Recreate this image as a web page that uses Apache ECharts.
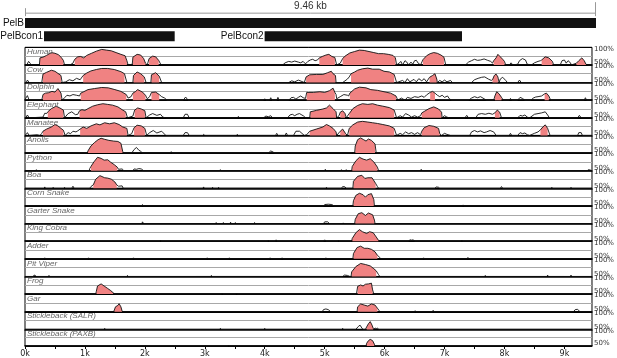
<!DOCTYPE html>
<html>
<head>
<meta charset="utf-8">
<script src="https://cdn.jsdelivr.net/npm/echarts@6/dist/echarts.min.js"></script>
<style>
html, body { margin: 0; background: #fff; }
#vista { width: 617px; height: 358px; }
</style>
</head>
<body>
<div id="vista"></div>
<script>
// sequence length in kb
var lengthKb = 9.46;

var trackNames = ['Human', 'Cow', 'Dolphin', 'Elephant', 'Manatee', 'Anolis', 'Python', 'Boa',
  'Corn Snake', 'Garter Snake', 'King Cobra', 'Adder', 'Pit Viper', 'Frog', 'Gar',
  'Stickleback (SALR)', 'Stickleback (PAXB)'];

// conservation curves: [position kb, % identity], 50 = at or below the floor
var human = [[0,50],[0.03,50],[0.06,60],[0.09,54],[0.11,50],[0.24,50],[0.25,70],[0.3,72],[0.36,77],[0.44,85],[0.5,83],[0.56,79],[0.61,70],[0.64,63],[0.66,50],[0.75,50],[0.8,55],[0.83,66],[0.88,73],[0.93,74],[0.98,70],[1.03,77],[1.11,83],[1.19,89],[1.28,94],[1.36,92],[1.44,90],[1.52,85],[1.6,80],[1.67,76],[1.7,62],[1.72,50],[1.79,52],[1.8,72],[1.87,80],[1.93,78],[1.98,68],[2.01,55],[2.04,50],[2.07,68],[2.13,75],[2.18,73],[2.23,63],[2.27,50],
  [4.3,50],[4.34,56],[4.4,60],[4.45,58],[4.5,61],[4.56,58],[4.6,56],[4.64,60],[4.68,53],[4.72,60],[4.76,64],[4.8,66],[4.84,62],[4.88,64],[4.91,70],[4.96,74],[5.02,78],[5.07,80],[5.12,74],[5.17,71],[5.2,50],[5.26,55],[5.3,68],[5.34,75],[5.42,84],[5.5,88],[5.58,92],[5.66,91],[5.74,88],[5.82,85],[5.9,82],[5.98,82],[6.06,80],[6.14,77],[6.18,70],[6.2,50],[6.25,56],[6.27,60],[6.3,50],[6.34,62],[6.37,58],[6.4,50],[6.44,58],[6.47,52],[6.5,62],[6.53,63],[6.56,55],[6.6,50],
  [6.64,65],[6.7,76],[6.76,82],[6.82,85],[6.88,83],[6.94,78],[6.99,72],[7.02,50],[7.35,50],[7.4,58],[7.45,62],[7.5,66],[7.55,63],[7.6,64],[7.66,67],[7.72,63],[7.77,60],[7.8,55],[7.82,62],[7.86,70],[7.89,80],[7.93,73],[7.97,66],[8.0,60],[8.02,50],[8.08,50],[8.11,56],[8.14,50],[8.22,52],[8.25,62],[8.3,68],[8.35,64],[8.38,52],[8.45,50],[8.5,56],[8.56,60],[8.6,62],[8.62,64],[8.68,73],[8.74,70],[8.8,60],[8.82,50],[8.93,50],[8.96,62],[9.0,64],[9.03,55],[9.06,62],[9.09,58],[9.12,50],[9.2,55],[9.24,62],[9.29,70],[9.33,62],[9.36,52],[9.38,50],[9.46,50]];
var cow = [[0,50],[0.02,50],[0.04,57],[0.07,50],[0.28,50],[0.3,74],[0.36,79],[0.44,85],[0.5,82],[0.55,76],[0.6,70],[0.62,50],[0.68,52],[0.74,58],[0.8,55],[0.86,62],[0.92,58],[0.97,70],[1.03,77],[1.1,83],[1.19,87],[1.28,90],[1.38,90],[1.49,87],[1.6,81],[1.66,75],[1.7,50],[1.8,50],[1.81,70],[1.87,80],[1.93,75],[1.99,66],[2.02,50],[2.1,50],[2.11,72],[2.18,78],[2.24,68],[2.28,50],
  [4.4,50],[4.45,55],[4.5,52],[4.56,57],[4.62,53],[4.66,50],[4.69,66],[4.75,72],[4.86,73],[4.97,73],[5.05,78],[5.11,82],[5.14,75],[5.18,70],[5.19,50],[5.3,50],[5.38,60],[5.41,66],[5.44,75],[5.5,80],[5.55,85],[5.63,89],[5.72,91],[5.8,88],[5.91,88],[5.99,82],[6.08,80],[6.16,73],[6.2,50],[6.3,56],[6.34,50],[6.38,61],[6.42,52],[6.46,56],[6.49,59],[6.53,52],[6.57,61],[6.62,55],[6.66,61],[6.7,52],
  [6.75,65],[6.8,70],[6.84,75],[6.87,60],[6.88,50],[6.92,56],[6.96,52],[7.0,57],[7.04,52],[7.1,56],[7.13,50],[7.45,50],[7.5,58],[7.56,62],[7.62,65],[7.67,66],[7.73,60],[7.78,56],[7.8,58],[7.83,70],[7.86,74],[7.89,66],[7.91,50],[7.93,60],[7.97,65],[8.02,56],[8.05,50],[8.22,50],[8.25,57],[8.28,50],[9.46,50]];
var dolphin = [[0,50],[0.01,55],[0.04,63],[0.07,50],[0.28,50],[0.3,66],[0.34,70],[0.39,71],[0.45,75],[0.5,73],[0.55,83],[0.6,70],[0.62,50],[0.66,57],[0.7,64],[0.75,62],[0.8,66],[0.86,64],[0.91,62],[0.93,70],[0.98,74],[1.05,80],[1.16,83],[1.28,86],[1.39,85],[1.5,80],[1.6,75],[1.69,66],[1.72,56],[1.77,60],[1.8,70],[1.84,74],[1.88,80],[1.96,73],[2.01,64],[2.04,54],[2.08,60],[2.11,72],[2.18,73],[2.24,66],[2.28,60],[2.33,56],[2.37,50],
  [2.64,50],[2.68,59],[2.72,50],[3.98,50],[4.0,54],[4.02,50],[4.08,50],[4.1,57],[4.12,50],[4.2,50],[4.22,58],[4.24,50],[4.4,50],[4.44,57],[4.48,58],[4.52,53],[4.56,58],[4.6,62],[4.64,57],[4.68,55],[4.7,72],[4.81,72],[4.92,74],[5.0,72],[5.08,77],[5.14,84],[5.17,72],[5.19,66],[5.2,54],[5.26,60],[5.32,66],[5.38,64],[5.4,62],[5.42,70],[5.5,82],[5.58,87],[5.69,85],[5.77,80],[5.88,78],[5.99,74],[6.1,70],[6.19,62],[6.22,50],
  [6.28,56],[6.34,50],[6.38,58],[6.44,55],[6.5,60],[6.56,58],[6.62,62],[6.66,58],[6.7,65],[6.76,72],[6.8,75],[6.84,70],[6.88,64],[6.92,60],[6.96,64],[7.0,58],[7.05,62],[7.08,54],[7.12,50],[7.4,50],[7.45,56],[7.5,60],[7.55,57],[7.6,60],[7.66,54],[7.7,50],[7.82,50],[7.84,62],[7.87,74],[7.91,68],[7.95,58],[7.98,50],[8.08,50],[8.1,55],[8.12,50],[8.22,50],[8.26,58],[8.3,55],[8.34,50],[8.44,50],[8.48,56],[8.52,59],[8.56,60],[8.62,62],[8.67,68],[8.7,70],[8.74,62],[8.77,50],[9.33,50],[9.35,57],[9.37,50],[9.46,50]];
var elephant = [[0,50],[0.02,52],[0.04,58],[0.07,50],[0.3,52],[0.33,63],[0.36,62],[0.38,67],[0.44,76],[0.52,83],[0.58,78],[0.64,72],[0.66,50],[0.72,62],[0.78,67],[0.84,59],[0.88,60],[0.91,70],[0.95,73],[1.0,71],[1.05,76],[1.13,83],[1.21,87],[1.3,90],[1.38,88],[1.46,86],[1.55,81],[1.63,72],[1.68,67],[1.71,50],[1.8,55],[1.83,72],[1.88,78],[1.94,75],[2.0,70],[2.02,50],[2.08,58],[2.13,62],[2.2,57],[2.26,60],[2.3,52],[2.35,50],
  [2.64,50],[2.67,60],[2.71,60],[2.74,50],[3.55,50],[3.56,54],[3.58,50],[3.98,50],[4.02,55],[4.06,53],[4.1,56],[4.13,50],[4.38,50],[4.42,58],[4.46,60],[4.5,56],[4.54,60],[4.58,62],[4.62,58],[4.65,55],[4.68,50],[4.75,50],[4.76,67],[4.86,71],[4.97,75],[5.03,78],[5.08,86],[5.14,76],[5.19,67],[5.2,50],[5.24,56],[5.26,66],[5.3,70],[5.34,62],[5.36,50],[5.38,55],[5.41,62],[5.47,76],[5.55,85],[5.63,90],[5.72,88],[5.8,90],[5.88,86],[5.97,83],[6.08,79],[6.16,72],[6.2,50],
  [6.26,56],[6.3,52],[6.35,62],[6.4,58],[6.45,52],[6.5,56],[6.55,52],[6.6,56],[6.62,64],[6.66,68],[6.74,76],[6.82,81],[6.9,75],[6.95,66],[6.96,50],[7.0,56],[7.04,52],[7.08,50],[7.34,50],[7.37,57],[7.4,50],[7.52,50],[7.56,60],[7.62,62],[7.68,60],[7.74,63],[7.8,60],[7.84,64],[7.88,72],[7.92,66],[7.95,50],[8.22,50],[8.26,57],[8.3,55],[8.34,58],[8.38,52],[8.42,50],[8.5,60],[8.56,62],[8.62,64],[8.68,67],[8.72,58],[8.75,50],[9.22,50],[9.25,57],[9.28,50],[9.46,50]];
var manatee = [[0,50],[0.02,53],[0.04,58],[0.07,50],[0.2,52],[0.25,50],[0.28,56],[0.3,62],[0.36,68],[0.44,74],[0.5,81],[0.55,77],[0.6,70],[0.64,65],[0.67,50],[0.72,58],[0.76,55],[0.8,62],[0.85,60],[0.88,63],[0.92,68],[0.97,74],[1.03,70],[1.1,77],[1.19,83],[1.25,80],[1.33,86],[1.41,83],[1.49,86],[1.57,81],[1.63,74],[1.7,70],[1.72,50],[1.78,55],[1.82,72],[1.87,79],[1.94,77],[2.0,70],[2.03,50],[2.08,58],[2.14,64],[2.2,57],[2.28,62],[2.35,50],
  [2.64,50],[2.67,58],[2.71,58],[2.74,50],[2.97,50],[2.98,53],[3.0,50],[3.53,50],[3.54,53],[3.56,50],[4.18,50],[4.2,56],[4.22,50],[4.34,50],[4.36,57],[4.38,50],[4.48,50],[4.52,62],[4.58,62],[4.62,56],[4.66,50],[4.7,52],[4.75,62],[4.86,68],[4.97,74],[5.03,81],[5.08,77],[5.14,70],[5.19,60],[5.2,50],[5.26,62],[5.3,68],[5.35,55],[5.38,50],[5.41,70],[5.47,80],[5.55,88],[5.63,90],[5.72,88],[5.8,86],[5.88,84],[5.97,81],[6.08,77],[6.16,70],[6.2,50],
  [6.26,56],[6.3,52],[6.35,60],[6.4,55],[6.45,58],[6.5,53],[6.55,58],[6.6,52],[6.62,62],[6.66,72],[6.74,78],[6.82,76],[6.9,70],[6.92,55],[6.95,50],[7.0,56],[7.04,53],[7.1,50],[7.42,50],[7.45,60],[7.5,64],[7.55,60],[7.6,63],[7.66,58],[7.7,60],[7.76,64],[7.82,60],[7.86,50],[8.08,50],[8.1,56],[8.12,50],[8.22,50],[8.26,58],[8.3,55],[8.34,57],[8.38,52],[8.42,50],[8.5,56],[8.56,60],[8.6,66],[8.64,74],[8.68,80],[8.72,70],[8.76,50],[9.22,50],[9.24,58],[9.28,58],[9.3,50],[9.46,50]];
var anolis = [[0,50],[0.35,50],[0.36,53],[0.37,50],[1.04,50],[1.05,56],[1.1,70],[1.16,80],[1.22,88],[1.27,92],[1.33,89],[1.4,86],[1.48,84],[1.55,83],[1.6,78],[1.63,55],[1.64,50],[1.78,50],[1.82,60],[1.86,66],[1.9,58],[1.93,55],[1.96,50],[2.43,50],[2.44,54],[2.45,50],[4.06,50],[4.1,56],[4.14,53],[4.16,50],[5.45,50],[5.46,53],[5.47,50],[5.5,50],[5.51,70],[5.55,88],[5.6,93],[5.65,88],[5.69,84],[5.73,90],[5.78,86],[5.84,76],[5.86,50],[9.46,50]];
var python = [[0,50],[0.18,50],[0.19,53],[0.2,50],[1.07,50],[1.08,56],[1.1,62],[1.15,75],[1.21,88],[1.27,85],[1.32,80],[1.38,81],[1.43,74],[1.49,67],[1.54,60],[1.56,54],[1.62,55],[1.65,50],[1.8,50],[1.82,55],[1.86,54],[1.9,56],[1.94,55],[1.98,50],[3.25,50],[3.26,53],[3.27,50],[5.0,50],[5.01,54],[5.03,50],[5.27,50],[5.28,53],[5.29,50],[5.35,50],[5.36,53],[5.37,50],[5.45,50],[5.46,62],[5.52,78],[5.58,88],[5.64,83],[5.7,80],[5.76,84],[5.82,75],[5.88,60],[5.9,50],[6.6,50],[6.61,54],[6.63,50],[9.38,50],[9.4,53],[9.43,52],[9.46,50]];
var boa = [[0,50],[0.32,50],[0.33,54],[0.34,50],[0.46,50],[0.47,53],[0.48,50],[0.65,50],[0.66,53],[0.67,50],[0.78,50],[0.8,56],[0.82,50],[1.08,50],[1.1,55],[1.14,60],[1.18,76],[1.25,86],[1.33,80],[1.38,79],[1.44,76],[1.5,68],[1.53,60],[1.56,56],[1.62,57],[1.64,50],[2.97,50],[2.98,54],[2.99,50],[3.12,50],[3.13,53],[3.14,50],[3.22,50],[3.23,53],[3.24,50],[5.02,50],[5.03,53],[5.04,50],[5.28,50],[5.3,55],[5.34,54],[5.36,50],[5.47,50],[5.48,70],[5.55,84],[5.62,87],[5.67,78],[5.72,80],[5.79,80],[5.85,64],[5.88,55],[5.9,50],[6.84,50],[6.86,54],[6.9,53],[6.92,50],[7.93,50],[7.95,55],[7.97,50],[8.78,50],[8.79,53],[8.8,50],[9.1,50],[9.11,53],[9.12,50],[9.46,50]];
var cornSnake = [[0,50],[1.95,50],[1.96,54],[1.97,50],[4.98,50],[5.0,54],[5.06,55],[5.12,54],[5.16,50],[5.47,50],[5.48,65],[5.52,80],[5.58,86],[5.64,82],[5.68,75],[5.72,82],[5.78,85],[5.82,68],[5.83,50],[7.3,50],[7.31,53],[7.32,50],[9.46,50]];
var garterSnake = [[0,50],[1.95,50],[1.96,55],[1.98,50],[3.18,50],[3.19,53],[3.2,50],[3.3,50],[3.31,53],[3.32,50],[3.42,50],[3.43,54],[3.44,50],[3.5,50],[3.51,53],[3.52,50],[3.82,50],[3.83,53],[3.84,50],[4.98,50],[5.0,55],[5.05,55],[5.08,50],[5.3,50],[5.31,52],[5.32,50],[5.5,50],[5.51,62],[5.56,78],[5.62,81],[5.68,73],[5.73,80],[5.8,75],[5.83,60],[5.84,50],[9.46,50]];
var kingCobra = [[0,50],[2.25,50],[2.26,53],[2.27,50],[4.05,50],[4.06,53],[4.07,50],[4.18,50],[4.19,54],[4.2,50],[4.98,50],[5.0,54],[5.02,50],[5.22,50],[5.23,53],[5.24,50],[5.45,50],[5.46,58],[5.52,74],[5.58,83],[5.63,77],[5.7,72],[5.75,77],[5.81,74],[5.86,62],[5.9,52],[5.92,50],[6.4,50],[6.42,54],[6.45,53],[6.48,54],[6.5,50],[7.28,50],[7.29,53],[7.3,50],[9.46,50]];
var adder = [[0,50],[0.32,50],[0.33,53],[0.34,50],[1.05,50],[1.06,53],[1.07,50],[1.8,50],[1.81,53],[1.82,50],[3.03,50],[3.04,53],[3.05,50],[3.4,50],[3.41,53],[3.42,50],[4.08,50],[4.09,53],[4.1,50],[4.28,50],[4.29,53],[4.3,50],[5.01,50],[5.02,53],[5.03,50],[5.47,50],[5.48,65],[5.54,82],[5.6,86],[5.66,80],[5.72,80],[5.78,77],[5.84,70],[5.88,60],[5.92,54],[5.93,50],[6.64,50],[6.65,53],[6.66,50],[7.38,50],[7.39,54],[7.4,50],[9.46,50]];
var pitViper = [[0,50],[0.14,50],[0.15,54],[0.17,53],[0.19,50],[0.39,50],[0.4,53],[0.41,50],[1.7,50],[1.71,53],[1.72,50],[3.1,50],[3.11,53],[3.12,50],[5.3,50],[5.33,54],[5.38,53],[5.42,50],[5.44,50],[5.45,63],[5.52,78],[5.6,87],[5.68,84],[5.76,80],[5.82,72],[5.86,66],[5.9,55],[5.92,50],[7.67,50],[7.68,53],[7.69,50],[8.71,50],[8.72,54],[8.73,50],[9.1,50],[9.11,54],[9.12,50],[9.46,50]];
var frog = [[0,50],[1.18,50],[1.19,58],[1.21,73],[1.27,79],[1.32,73],[1.38,66],[1.43,60],[1.47,54],[1.5,50],[3.28,50],[3.29,53],[3.3,50],[3.52,50],[3.53,53],[3.54,50],[5.53,50],[5.55,72],[5.6,76],[5.64,73],[5.68,78],[5.73,79],[5.78,81],[5.8,62],[5.82,50],[9.46,50]];
var gar = [[0,50],[1.48,50],[1.49,55],[1.51,64],[1.55,68],[1.57,73],[1.6,64],[1.62,52],[1.63,50],[4.96,50],[4.98,56],[5.02,58],[5.06,56],[5.1,50],[5.54,50],[5.55,64],[5.6,72],[5.66,69],[5.72,66],[5.78,72],[5.84,69],[5.88,60],[5.91,53],[5.92,50],[6.5,50],[6.51,53],[6.52,50],[6.8,50],[6.81,54],[6.82,50],[9.15,50],[9.18,56],[9.22,57],[9.26,50],[9.46,50]];
var sticklebackSalr = [[0,50],[1.32,50],[1.33,53],[1.34,50],[3.25,50],[3.26,53],[3.27,50],[3.99,50],[4.0,53],[4.01,50],[5.29,50],[5.3,53],[5.31,50],[5.52,50],[5.56,58],[5.59,62],[5.62,54],[5.64,50],[5.68,50],[5.7,57],[5.73,66],[5.76,72],[5.79,62],[5.81,53],[5.82,50],[5.84,54],[5.86,52],[5.88,54],[5.9,50],[9.46,50]];
var sticklebackPaxb = [[0,50],[3.39,50],[3.4,53],[3.41,50],[5.69,50],[5.7,58],[5.73,66],[5.76,70],[5.8,66],[5.83,55],[5.84,50],[9.46,50]];

var trackPoints = [human, cow, dolphin, elephant, manatee, anolis, python, boa, cornSnake,
  garterSnake, kingCobra, adder, pitViper, frog, gar, sticklebackSalr, sticklebackPaxb];

// conserved regions (shaded), [start kb, end kb]
var trackFills = [
  [[0.25,0.64],[0.83,1.7],[1.8,2.01],[2.07,2.23],[4.91,5.17],[5.3,6.18],[6.64,6.99],[7.82,8.0],[8.62,8.8],[9.2,9.36]],
  [[0.3,0.6],[0.97,1.66],[1.81,2.0],[2.11,2.24],[4.69,5.18],[5.44,6.16],[6.75,6.87],[7.8,7.89]],
  [[0.3,0.6],[0.93,1.69],[1.8,2.01],[2.11,2.24],[4.7,5.17],[5.42,6.19],[6.76,6.84],[7.84,7.95],[8.67,8.74]],
  [[0.38,0.64],[0.91,1.68],[1.83,2.0],[4.76,5.19],[5.26,5.34],[5.41,6.16],[6.62,6.95],[7.84,7.92]],
  [[0.3,0.64],[0.92,1.7],[1.82,2.0],[4.75,5.19],[5.26,5.35],[5.41,6.16],[6.62,6.92],[8.6,8.72]],
  [[1.05,1.63],[5.51,5.84]],
  [[1.1,1.54],[5.46,5.88]],
  [[1.14,1.53],[5.48,5.85]],
  [[5.48,5.82]],
  [[5.51,5.83]],
  [[5.46,5.9]],
  [[5.48,5.88]],
  [[5.45,5.86]],
  [[1.19,1.47],[5.55,5.8]],
  [[1.49,1.62],[5.55,5.88]],
  [[5.7,5.81]],
  [[5.7,5.83]]
];

// annotation features
var geneNames = ['PelB', 'PelBcon1', 'PelBcon2'];
var geneStart = [0, 0.315, 3.97];
var geneEnd = [9.46, 2.48, 7.24];
var geneRow = [1, 2, 2];

var trackTop = 47.3;
var trackH = 17.63;
var plotLeft = 25;
var plotW = 571;

function inFill(x, ranges) {
  return ranges.some(function (r) { return x >= r[0] - 1e-9 && x <= r[1] + 1e-9; });
}

// one custom series per track: shaded conserved runs + the identity curve,
// all positions go through api.coord (the track's own axes)
function makeTrackRenderer(ranges) {
  return function (params, api) {
    if (params.dataIndexInside !== 0) return null;
    var count = params.dataInsideLength;
    var line = [], children = [], run = null;
    for (var j = 0; j < count; j++) {
      var x = api.value(0, j), y = api.value(1, j);
      var pt = api.coord([x, y]);
      line.push(pt);
      if (inFill(x, ranges)) {
        if (!run) run = [api.coord([x, 50])];
        run.push(pt);
      } else if (run) {
        run.push(api.coord([api.value(0, j - 1), 50]));
        children.push({ type: 'polygon', shape: { points: run }, style: { fill: '#f08282' } });
        run = null;
      }
    }
    if (run) {
      run.push(api.coord([api.value(0, count - 1), 50]));
      children.push({ type: 'polygon', shape: { points: run }, style: { fill: '#f08282' } });
    }
    children.push({ type: 'polyline', shape: { points: line }, style: { stroke: '#111', lineWidth: 0.9, fill: null, lineJoin: 'round' } });
    return { type: 'group', children: children };
  };
}

var grids = [], xAxes = [], yAxes = [], series = [], titles = [];
var n = trackNames.length;

trackNames.forEach(function (name, i) {
  var top = trackTop + i * trackH;
  var last = i === n - 1;
  grids.push({ left: plotLeft, width: plotW, top: top, height: trackH, show: true, borderColor: '#000', borderWidth: 1 });
  xAxes.push({
    gridIndex: i, type: 'value', min: 0, max: lengthKb, interval: 0.5,
    axisLine: { show: true, onZero: false, lineStyle: { color: '#000', width: 1.5 } },
    axisTick: { show: last, length: 3, lineStyle: { color: '#000' } },
    axisLabel: {
      show: last, fontSize: 8, color: '#222', margin: 4, fontFamily: 'DejaVu Sans',
      showMaxLabel: false,
      formatter: function (v) { return Math.abs(v - Math.round(v)) < 1e-6 ? Math.round(v) + 'k' : ''; }
    },
    splitLine: { show: false }
  });
  yAxes.push({
    gridIndex: i, type: 'value', min: 50, max: 100, interval: 25, position: 'right',
    axisLine: { show: false }, axisTick: { show: false },
    axisLabel: {
      margin: 2, color: '#333', fontSize: 7, fontFamily: 'DejaVu Sans',
      formatter: function (v) {
        if (v === 100) return '{t|100%}';
        if (v === 50) return '{b|50%}';
        return '';
      },
      rich: {
        t: { fontSize: 7, padding: [3, 0, 0, 0], color: '#333' },
        b: { fontSize: 7, padding: [0, 0, 5, 0], color: '#333' }
      }
    },
    splitLine: { show: true, lineStyle: { color: ['#000', '#a8a8a8', '#000'], width: 1 } }
  });
  titles.push({
    text: name, left: plotLeft + 2, top: top + 0.5, padding: 0,
    textStyle: { fontSize: 8, fontStyle: 'italic', fontWeight: 'normal', color: '#666', fontFamily: 'Liberation Sans' }
  });
  series.push({
    type: 'custom', xAxisIndex: i, yAxisIndex: i, data: trackPoints[i],
    encode: { x: 0, y: 1 }, silent: true, z: 3,
    renderItem: makeTrackRenderer(trackFills[i])
  });
});

// header panel: scale bar and features
grids.push({ left: plotLeft, width: plotW, top: 3, height: 40 });
xAxes.push({ gridIndex: n, type: 'value', min: 0, max: lengthKb, show: false });
yAxes.push({ gridIndex: n, type: 'value', min: -0.5, max: 2.5, inverse: true, show: false });

var headerData = [[0, lengthKb, 0, -1]];
geneNames.forEach(function (g, k) { headerData.push([geneStart[k], geneEnd[k], geneRow[k], k]); });

series.push({
  type: 'custom', xAxisIndex: n, yAxisIndex: n, data: headerData, silent: true,
  renderItem: function (params, api) {
    var s = api.value(0), e = api.value(1), row = api.value(2), k = api.value(3);
    var p0 = api.coord([s, row]), p1 = api.coord([e, row]);
    if (k < 0) {
      var y = p0[1] + 3.5;
      return {
        type: 'group', children: [
          { type: 'line', shape: { x1: p0[0] + 0.5, y1: y, x2: p1[0] - 0.5, y2: y }, style: { stroke: '#999', lineWidth: 1 } },
          { type: 'line', shape: { x1: p0[0] + 0.5, y1: y - 5, x2: p0[0] + 0.5, y2: y + 3 }, style: { stroke: '#999', lineWidth: 1 } },
          { type: 'line', shape: { x1: p1[0] - 0.5, y1: y - 11, x2: p1[0] - 0.5, y2: y + 3 }, style: { stroke: '#999', lineWidth: 1 } },
          { type: 'text', x: (p0[0] + p1[0]) / 2, y: y - 2, style: { text: lengthKb + ' kb', textAlign: 'center', textVerticalAlign: 'bottom', fontSize: 10, fill: '#333', fontFamily: 'Liberation Sans' } }
        ]
      };
    }
    return {
      type: 'group', children: [
        { type: 'rect', shape: { x: p0[0], y: p0[1] - 5, width: p1[0] - p0[0], height: 10 }, style: { fill: '#111' } },
        { type: 'text', x: p0[0] - 1, y: p0[1], style: { text: geneNames[k], textAlign: 'right', textVerticalAlign: 'middle', fontSize: 10, fill: '#111', fontFamily: 'Liberation Sans' } }
      ]
    };
  }
});

var chart = echarts.init(document.getElementById('vista'));
chart.setOption({
  animation: false,
  backgroundColor: '#fff',
  title: titles,
  grid: grids,
  xAxis: xAxes,
  yAxis: yAxes,
  series: series
});
</script>
</body>
</html>
